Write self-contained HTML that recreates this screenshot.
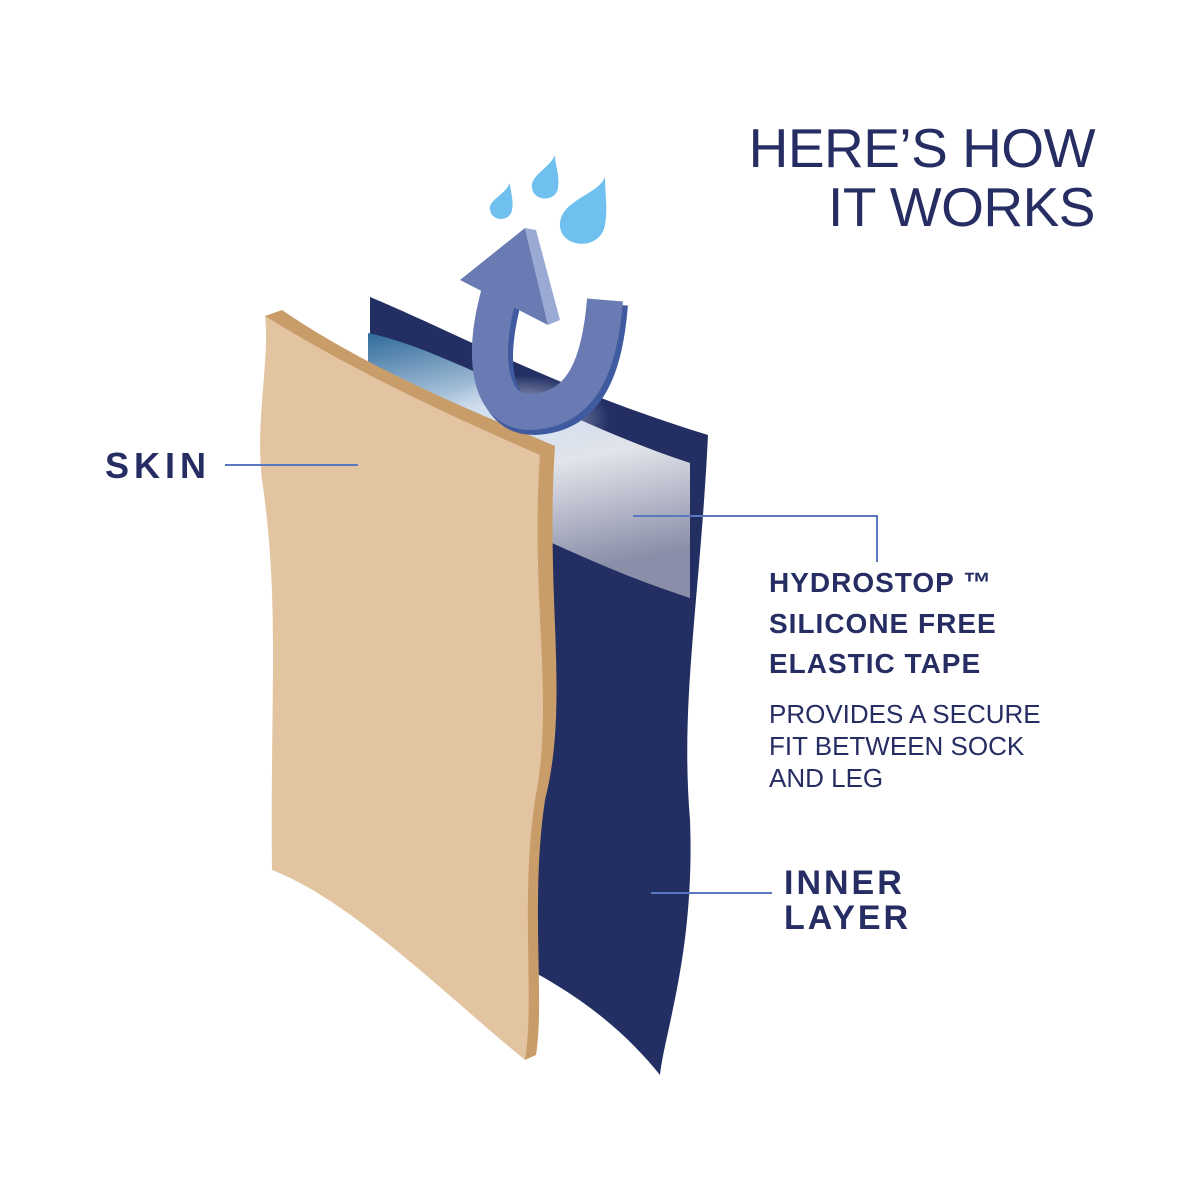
<!DOCTYPE html>
<html><head><style>
body{margin:0;background:#fff;}
svg{display:block}
text{font-family:"Liberation Sans",sans-serif;fill:#262d63}
</style></head><body>
<svg width="1200" height="1200" viewBox="0 0 1200 1200">
<defs>
<linearGradient id="tape" x1="0" y1="0" x2="0.25" y2="1">
<stop offset="0" stop-color="#2f6a9a"/>
<stop offset="0.35" stop-color="#c8d8ea"/>
<stop offset="0.6" stop-color="#e2e4ea"/>
<stop offset="1" stop-color="#8a8ea8"/>
</linearGradient>
<radialGradient id="glow" cx="0.5" cy="0.5" r="0.5">
<stop offset="0" stop-color="#dbe6f4" stop-opacity="0.95"/>
<stop offset="1" stop-color="#dbe6f4" stop-opacity="0"/>
</radialGradient>
</defs>
<path d="M370 297 C450 330 560 390 708 435 C700 600 680 700 690 820 C695 950 665 1030 660 1075 C600 1000 520 960 440 930 L370 900 Z" fill="#232f63"/>
<path d="M368 333 C450 350 560 420 690 463 L690 598 C620 575 580 555 545 540 L368 470 Z" fill="url(#tape)"/>
<ellipse cx="520" cy="420" rx="90" ry="45" fill="url(#glow)"/>
<path d="M265 316 L282 310 C370 370 470 410 555 446 C545 600 570 700 545 800 C530 900 545 1000 536 1055 L525 1060 Z" fill="#c99d6a"/>
<path d="M265 316 C360 375 460 420 540 455 C530 600 555 700 535 800 C520 900 535 1000 525 1060 C440 990 350 900 272 870 C270 700 280 600 262 480 C255 420 270 360 265 316 Z" fill="#e2c4a0"/>
<path d="M605 300 C600 360 585 410 530 412 C490 412 480 360 500 290" fill="none" stroke="#3f5a9e" stroke-width="38" transform="translate(4,4)"/>
<path d="M605 300 C600 360 585 410 530 412 C490 412 480 360 500 290" fill="none" stroke="#6a7bb3" stroke-width="36"/>
<polygon points="460,280 525,228 548,325" fill="#6a7bb3"/>
<polygon points="525,228 536,230 560,320 548,325" fill="#9aaad4"/>
<path d="M510 183 C505 195 488 200 490 210 C492 222 510 222 512 210 C514 200 510 190 510 183Z" fill="#6fc0ee"/>
<path d="M555 155 C550 168 530 175 532 188 C534 202 556 202 558 188 C560 175 555 165 555 155Z" fill="#6fc0ee"/>
<path d="M605 177 C598 195 560 200 560 225 C560 248 600 252 605 225 C608 208 605 195 605 177Z" fill="#6fc0ee"/>
<g stroke="#5a78bd" stroke-width="2" fill="none">
<line x1="225" y1="465" x2="358" y2="465"/>
<polyline points="633,516 877,516 877,562"/>
<line x1="651" y1="893" x2="772" y2="893"/>
</g>
<text x="1095" y="167" text-anchor="end" font-size="55" style="font-weight:300;letter-spacing:-0.5px">HERE’S HOW</text>
<text x="1095" y="226" text-anchor="end" font-size="55" style="font-weight:300;letter-spacing:-0.5px">IT WORKS</text>
<text x="105" y="478" font-size="36" font-weight="bold" letter-spacing="5">SKIN</text>
<g font-size="28" font-weight="bold" letter-spacing="1">
<text x="769" y="592">HYDROSTOP ™</text>
<text x="769" y="633">SILICONE FREE</text>
<text x="769" y="673">ELASTIC TAPE</text>
</g>
<g font-size="26" style="fill:#4e5480">
<text x="769" y="723">PROVIDES A SECURE</text>
<text x="769" y="755">FIT BETWEEN SOCK</text>
<text x="769" y="787">AND LEG</text>
</g>
<text x="784" y="894" font-size="34" font-weight="bold" letter-spacing="3">INNER</text>
<text x="784" y="929" font-size="34" font-weight="bold" letter-spacing="3">LAYER</text>
</svg>
</body></html>
